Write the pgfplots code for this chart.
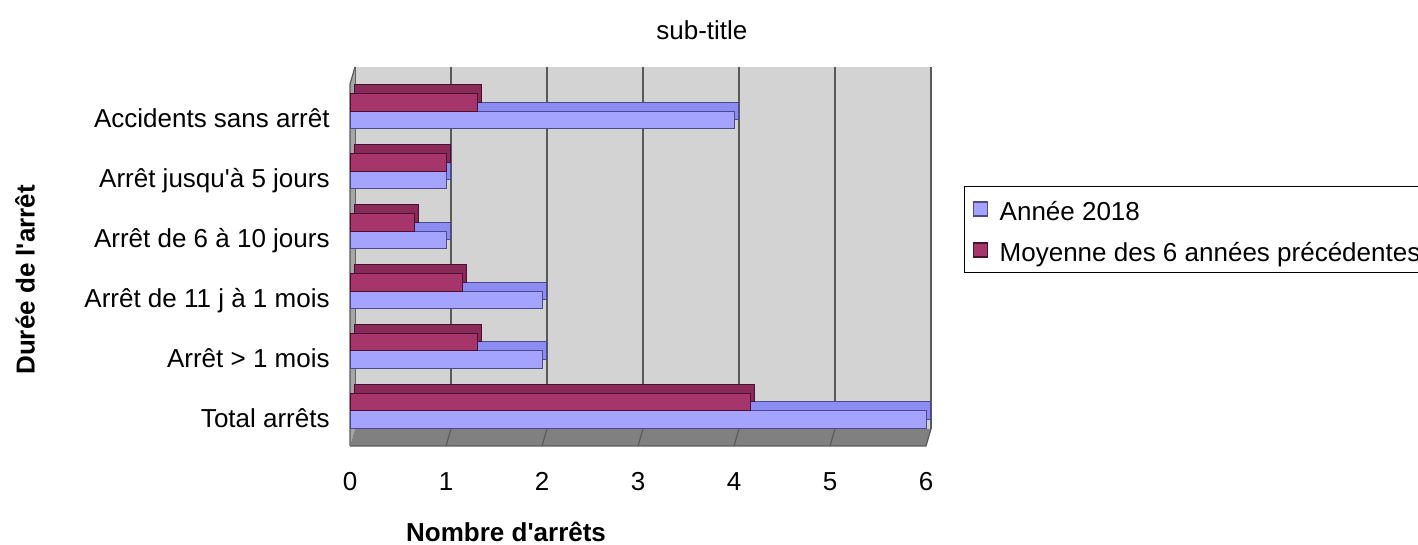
\documentclass[border=0pt]{standalone}
\usepackage{pgfplots}
\pgfplotsset{compat=1.18}
\usepackage{fontspec}
\setmainfont{Liberation Sans}

\definecolor{wallc}{HTML}{D3D3D3}
\definecolor{sidec}{HTML}{A6A6A6}
\definecolor{floorc}{HTML}{808080}
\definecolor{gridc}{HTML}{5A5A5A}
\definecolor{bluefront}{HTML}{A4A4FF}
\definecolor{bluetop}{HTML}{8C8CF2}
\definecolor{blueedge}{HTML}{4A4A8C}
\definecolor{redfront}{HTML}{A5356B}
\definecolor{redtop}{HTML}{8A2A58}
\definecolor{rededge}{HTML}{4A1030}

\newcommand{\lab}{\fontsize{13}{15.6}\selectfont}

\begin{document}
\begin{tikzpicture}
\useasboundingbox (0,0) rectangle (709pt,272.5pt);

% 3D walls (pixel units of the reference)
\begin{scope}[x=0.5pt,y=-0.5pt,yshift=272.5pt]
  \fill[wallc] (355,67) rectangle (931,429);
  \foreach \k in {1,...,5}
    \draw[gridc,line width=0.6pt] ({355+96*\k},67) -- ({355+96*\k},429);
  \draw[gridc,line width=0.6pt] (355,67) -- (355,429) (931,67) -- (931,429);
  \fill[sidec] (350,84) -- (355,67) -- (355,429) -- (350,446) -- cycle;
  \draw[gridc,line width=0.6pt] (350,446) -- (350,84) -- (355,67);
  \fill[floorc] (350,446) -- (355,429) -- (931,429) -- (926,446) -- cycle;
  \foreach \k in {1,...,5}
    \draw[gridc,line width=0.6pt] ({355+96*\k},429) -- ({350+96*\k},446);
  \draw[gridc,line width=0.6pt] (350,446) -- (926,446) -- (931,429);
\end{scope}

\begin{axis}[
  at={(175pt,48.5pt)}, anchor=south west,
  scale only axis, width=288pt, height=180pt,
  xmin=0, xmax=6, ymin=-0.5, ymax=5.5,
  clip=false,
  axis line style={draw=none},
  major tick length=0pt,
  xtick={0,...,6},
  ytick={0,...,5},
  yticklabels={Total arrêts, Arrêt > 1 mois, Arrêt de 11 j à 1 mois,
    Arrêt de 6 à 10 jours, Arrêt jusqu\textquotesingle à 5 jours, Accidents sans arrêt},
  /pgf/number format/assume math mode=true,
  tick label style={font=\lab},
  yticklabel style={anchor=base east, inner sep=0pt, xshift=-10pt, yshift=-4.65pt},
  xticklabel style={anchor=base, inner sep=0pt, yshift=-21.5pt},
  title={sub-title},
  every axis title/.style={at={(axis description cs:0.611,1.136)}, anchor=base, font=\lab, inner sep=0pt},
  xlabel={Nombre d\textquotesingle arrêts},
  every axis x label/.style={at={(axis description cs:0.271,-0.2611)}, anchor=base, font=\lab\bfseries, inner sep=0pt},
  ylabel={Durée de l\textquotesingle arrêt},
  every axis y label/.style={at={(axis description cs:-0.564,0.467)}, rotate=90, anchor=center, font=\lab\bfseries},
  xbar, bar width=8.75pt,
  legend style={at={(axis description cs:1.066,0.728)}, anchor=north west,
    draw=black, line width=0.6pt, font=\lab,
    inner xsep=4pt, inner ysep=5pt, row sep=8pt,
    nodes={inner sep=0pt, text height=12pt, text depth=0.5pt}},
  legend cell align=left,
  legend image code/.code={
    \draw[#1, line width=0.6pt] (0pt,-3.5pt) rectangle (7pt,3.5pt);
    \path (13pt,0pt);
  },
]
% Annee 2018
\addplot[forget plot, fill=bluetop, draw=blueedge, line width=0.5pt, bar shift=3.625pt, xshift=2pt]
  coordinates {(6,0) (2,1) (2,2) (1,3) (1,4) (4,5)};
\addplot[fill=bluefront, draw=blueedge, line width=0.5pt, bar shift=-0.875pt]
  coordinates {(6,0) (2,1) (2,2) (1,3) (1,4) (4,5)};
\addlegendentry{Année 2018}
% Moyenne des 6 annees precedentes
\addplot[forget plot, fill=redtop, draw=rededge, line width=0.5pt, bar shift=12.375pt, xshift=2pt]
  coordinates {(4.167,0) (1.333,1) (1.167,2) (0.667,3) (1,4) (1.333,5)};
\addplot[fill=redfront, draw=rededge, line width=0.5pt, bar shift=7.875pt]
  coordinates {(4.167,0) (1.333,1) (1.167,2) (0.667,3) (1,4) (1.333,5)};
\addlegendentry{Moyenne des 6 années précédentes}
\end{axis}
\end{tikzpicture}
\end{document}
